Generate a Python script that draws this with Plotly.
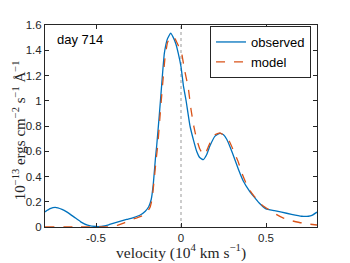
import plotly.graph_objects as go

obs_v = [-0.8, -0.77, -0.74, -0.70, -0.67, -0.63, -0.59, -0.55, -0.5, -0.45, -0.42, -0.37, -0.32,
         -0.28, -0.24, -0.21, -0.19, -0.175, -0.163, -0.15, -0.143, -0.128, -0.114, -0.098, -0.08,
         -0.061, -0.045, -0.03, -0.016, 0.0, 0.014, 0.03, 0.053, 0.075, 0.092, 0.11, 0.131, 0.15,
         0.171, 0.2, 0.229, 0.25, 0.269, 0.29, 0.308, 0.337, 0.367, 0.4, 0.425, 0.46, 0.5, 0.55,
         0.592, 0.65, 0.71, 0.75, 0.77, 0.8]
obs_y = [0.12, 0.145, 0.156, 0.14, 0.118, 0.08, 0.041, 0.015, 0.004, 0.008, 0.02, 0.04, 0.06,
         0.075, 0.095, 0.125, 0.16, 0.22, 0.34, 0.55, 0.644, 0.88, 1.12, 1.375, 1.49,
         1.535, 1.5, 1.45, 1.375, 1.27, 1.12, 1.0, 0.8, 0.68, 0.6, 0.55, 0.533, 0.57,
         0.645, 0.72, 0.742, 0.73, 0.695, 0.63, 0.567, 0.46, 0.362, 0.29, 0.246, 0.19, 0.144, 0.13,
         0.118, 0.1, 0.085, 0.085, 0.092, 0.118]

mod_v = [-0.8, -0.6, -0.45, -0.4, -0.37, -0.33, -0.3, -0.26, -0.222, -0.2, -0.182, -0.17, -0.157,
         -0.145, -0.137, -0.125, -0.11, -0.095, -0.08, -0.065, -0.05, -0.035, -0.02, 0.004, 0.02,
         0.043, 0.059, 0.075, 0.092, 0.11, 0.131, 0.15, 0.171, 0.2, 0.229, 0.26, 0.288, 0.31, 0.337,
         0.36, 0.386, 0.415, 0.445, 0.48, 0.524, 0.56, 0.6, 0.65, 0.71, 0.76, 0.8]
mod_y = [0, 0, 0, 0.003, 0.015, 0.035, 0.054, 0.072, 0.092, 0.115, 0.156, 0.22, 0.387,
         0.55, 0.644, 0.85, 1.1, 1.33, 1.46, 1.5, 1.51, 1.49, 1.45, 1.375, 1.25,
         1.1, 0.93, 0.8, 0.695, 0.62, 0.572, 0.6, 0.669, 0.73, 0.746, 0.72, 0.669, 0.6, 0.515,
         0.42, 0.336, 0.27, 0.22, 0.17, 0.131, 0.1, 0.072, 0.05, 0.032, 0.022, 0.016]

x_ticks = [-0.5, 0, 0.5]
x_ticklabels = ["-0.5", "0", "0.5"]
y_ticks = [0, 0.2, 0.4, 0.6, 0.8, 1.0, 1.2, 1.4, 1.6]
y_ticklabels = ["0", "0.2", "0.4", "0.6", "0.8", "1", "1.2", "1.4", "1.6"]

fig = go.Figure()
fig.add_trace(go.Scatter(x=obs_v, y=obs_y, mode="lines", name="observed",
                         line=dict(color="#0072BD", width=1.3, shape="spline", smoothing=0.4)))
fig.add_trace(go.Scatter(x=mod_v, y=mod_y, mode="lines", name="model",
                         line=dict(color="#D95319", width=1.3, dash="dash", shape="spline", smoothing=0.3)))

fig.add_shape(type="line", x0=0, x1=0, y0=0, y1=1.6, xref="x", yref="y",
              line=dict(color="#999999", width=1, dash="dot"), layer="below")

axis_common = dict(showline=True, linecolor="#262626", linewidth=1, mirror="ticks",
                   ticks="inside", ticklen=4, tickcolor="#262626", showgrid=False, zeroline=False,
                   tickfont=dict(family="Liberation Sans, Arial", size=11.5, color="#262626"))

fig.update_xaxes(range=[-0.8, 0.8], tickvals=x_ticks, ticktext=x_ticklabels, **axis_common)
fig.update_yaxes(range=[0, 1.6], tickvals=y_ticks, ticktext=y_ticklabels, **axis_common)

fig.update_layout(
    width=342, height=255,
    margin=dict(l=37, r=33, t=11.5, b=36),
    paper_bgcolor="white", plot_bgcolor="white",
    showlegend=True,
    legend=dict(x=0.978, y=0.995, xanchor="right", yanchor="top",
                bgcolor="white", bordercolor="#262626", borderwidth=1,
                font=dict(family="Liberation Sans, Arial", size=13, color="#000000"),
                tracegroupgap=0, itemwidth=30),
    annotations=[
        dict(text="day 714", xref="paper", yref="paper", x=0.035, y=0.93, xanchor="left",
             yanchor="middle", showarrow=False,
             font=dict(family="Liberation Sans, Arial", size=13, color="#000000")),
        dict(text="velocity (10<sup>4</sup> km s<sup>−1</sup>)", xref="paper", yref="paper",
             x=0.5, y=-0.12, xanchor="center", yanchor="middle", showarrow=False,
             font=dict(family="Liberation Serif, Times New Roman", size=15.5, color="#262626")),
        dict(text="10<sup>−13</sup> ergs cm<sup>−2</sup> s<sup>−1</sup> Å<sup>−1</sup>",
             xref="paper", yref="paper", x=-0.097, y=0.477, xanchor="center", yanchor="middle",
             textangle=-90, showarrow=False,
             font=dict(family="Liberation Serif, Times New Roman", size=15, color="#262626")),
    ],
)

fig.write_html("out.html")
